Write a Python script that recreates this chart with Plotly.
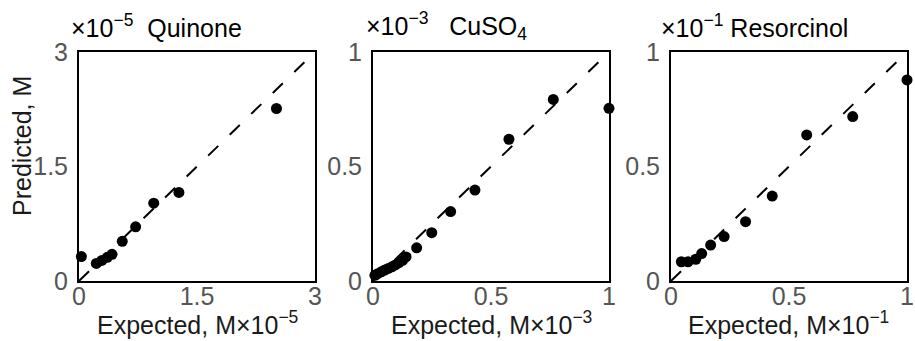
import plotly.graph_objects as go

# ---- data ----
quinone_expected = [0.03, 0.22, 0.29, 0.36, 0.42, 0.55, 0.72, 0.95, 1.27, 2.51]
quinone_predicted = [0.32, 0.23, 0.27, 0.31, 0.35, 0.52, 0.71, 1.02, 1.16, 2.26]

cuso4_expected = [0.008, 0.02, 0.035, 0.05, 0.065, 0.08, 0.095, 0.11, 0.125, 0.14,
                  0.185, 0.249, 0.329, 0.432, 0.576, 0.764, 1.0]
cuso4_predicted = [0.025, 0.032, 0.04, 0.048, 0.055, 0.062, 0.07, 0.08, 0.09, 0.105,
                   0.145, 0.211, 0.303, 0.397, 0.619, 0.793, 0.754]

resorcinol_expected = [0.044, 0.072, 0.105, 0.13, 0.168, 0.225, 0.316, 0.429, 0.575, 0.770, 1.0]
resorcinol_predicted = [0.084, 0.084, 0.095, 0.12, 0.157, 0.194, 0.259, 0.371, 0.638, 0.718, 0.878]

panel_titles = ["×10<sup>−5</sup>\u00a0\u00a0Quinone",
                "×10<sup>−3</sup>\u00a0\u00a0\u00a0CuSO<sub>4</sub>",
                "×10<sup>−1</sup>\u00a0Resorcinol"]
x_titles = ["Expected, M×10<sup>−5</sup>",
            "Expected, M×10<sup>−3</sup>",
            "Expected, M×10<sup>−1</sup>"]
y_title = "Predicted, M"
axis_max = [3, 1, 1]
tick_vals = [[0, 1.5, 3], [0, 0.5, 1], [0, 0.5, 1]]
tick_text = [["0", "1.5", "3"], ["0", "0.5", "1"], ["0", "0.5", "1"]]

W, H = 915, 341
x_domains = [[79 / W, 315 / W], [373 / W, 609 / W], [671 / W, 907 / W]]
y_domain = [1 - 281 / H, 1 - 52 / H]
FONT = "Arial, Liberation Sans, sans-serif"
FS = 25

series = [(quinone_expected, quinone_predicted),
          (cuso4_expected, cuso4_predicted),
          (resorcinol_expected, resorcinol_predicted)]

fig = go.Figure()
annotations = []
for i, (xs, ys) in enumerate(series):
    sfx = "" if i == 0 else str(i + 1)
    m = axis_max[i]
    fig.add_trace(go.Scatter(x=[0, m], y=[0, m], mode="lines",
                             line=dict(color="black", width=2, dash="14px,16px"),
                             xaxis="x" + sfx, yaxis="y" + sfx, showlegend=False,
                             hoverinfo="skip"))
    fig.add_trace(go.Scatter(x=xs, y=ys, mode="markers",
                             marker=dict(color="black", size=11),
                             cliponaxis=False,
                             xaxis="x" + sfx, yaxis="y" + sfx, showlegend=False))
    ax = dict(range=[0, m], domain=x_domains[i], anchor="y" + sfx, automargin=False,
              showline=True, linecolor="black", linewidth=2, mirror=True,
              showgrid=False, zeroline=False, ticks="", ticklabelstandoff=-8,
              tickvals=tick_vals[i], ticktext=tick_text[i],
              tickfont=dict(family=FONT, size=FS, color="#555555"))
    ay = dict(range=[0, m], domain=y_domain, anchor="x" + sfx, automargin=False,
              showline=True, linecolor="black", linewidth=2, mirror=True,
              showgrid=False, zeroline=False, ticks="", ticklabelstandoff=4,
              tickvals=tick_vals[i], ticktext=tick_text[i],
              tickfont=dict(family=FONT, size=FS, color="#555555"))
    fig.update_layout({"xaxis" + sfx: ax, "yaxis" + sfx: ay})

    x_center = (x_domains[i][0] + x_domains[i][1]) / 2
    annotations.append(dict(text=x_titles[i], x=x_center, y=1 - 323 / H,
                            xref="paper", yref="paper", xanchor="center", yanchor="middle",
                            showarrow=False, font=dict(family=FONT, size=FS, color="#1a1a1a")))
    title_left = [69, 364, 659][i]
    annotations.append(dict(text=panel_titles[i], x=title_left / W, y=1 - 26 / H,
                            xref="paper", yref="paper", xanchor="left", yanchor="middle",
                            showarrow=False, font=dict(family=FONT, size=FS, color="black")))

annotations.append(dict(text=y_title, x=22 / W, y=1 - 146 / H, xref="paper", yref="paper",
                        xanchor="center", yanchor="middle", textangle=-90, showarrow=False,
                        font=dict(family=FONT, size=FS, color="#1a1a1a")))

fig.update_layout(width=W, height=H, margin=dict(l=0, r=0, t=0, b=0),
                  paper_bgcolor="white", plot_bgcolor="white",
                  annotations=annotations)
fig.write_html("out.html")
